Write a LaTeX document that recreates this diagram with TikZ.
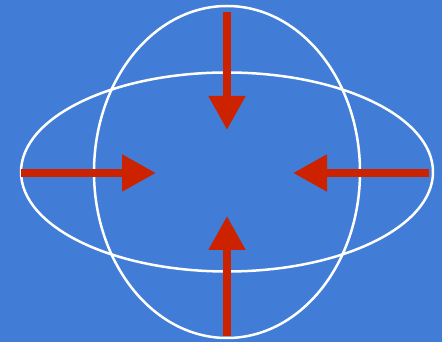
\documentclass[tikz,border=0pt]{standalone}
\usetikzlibrary{arrows.meta}
\definecolor{bg}{HTML}{417DD7}
\definecolor{arr}{HTML}{CC2200}
\begin{document}
\begin{tikzpicture}[x=1pt,y=1pt,
  ring/.style={draw=white,line width=2.5pt},
  push/.style={draw=arr,line width=8pt,-{Triangle[length=34pt,width=35pt]},color=arr}]
\fill[bg] (0,0) rectangle (442,342);
\useasboundingbox (0,0) rectangle (442,342);
\coordinate (c) at (227,170);
\draw[ring] (c) ellipse [x radius=206, y radius=99.5];
\draw[ring] (c) ellipse [x radius=133, y radius=166];
\coordinate (ts) at (227,330); \coordinate (te) at (227,212);
\coordinate (bs) at (227,6);   \coordinate (be) at (227,126);
\coordinate (ls) at (21,169);  \coordinate (le) at (156,169);
\coordinate (rs) at (429,169); \coordinate (re) at (293,169);
\draw[push] (ts) -- (te);
\draw[push] (bs) -- (be);
\draw[push] (ls) -- (le);
\draw[push] (rs) -- (re);
\end{tikzpicture}
\end{document}
